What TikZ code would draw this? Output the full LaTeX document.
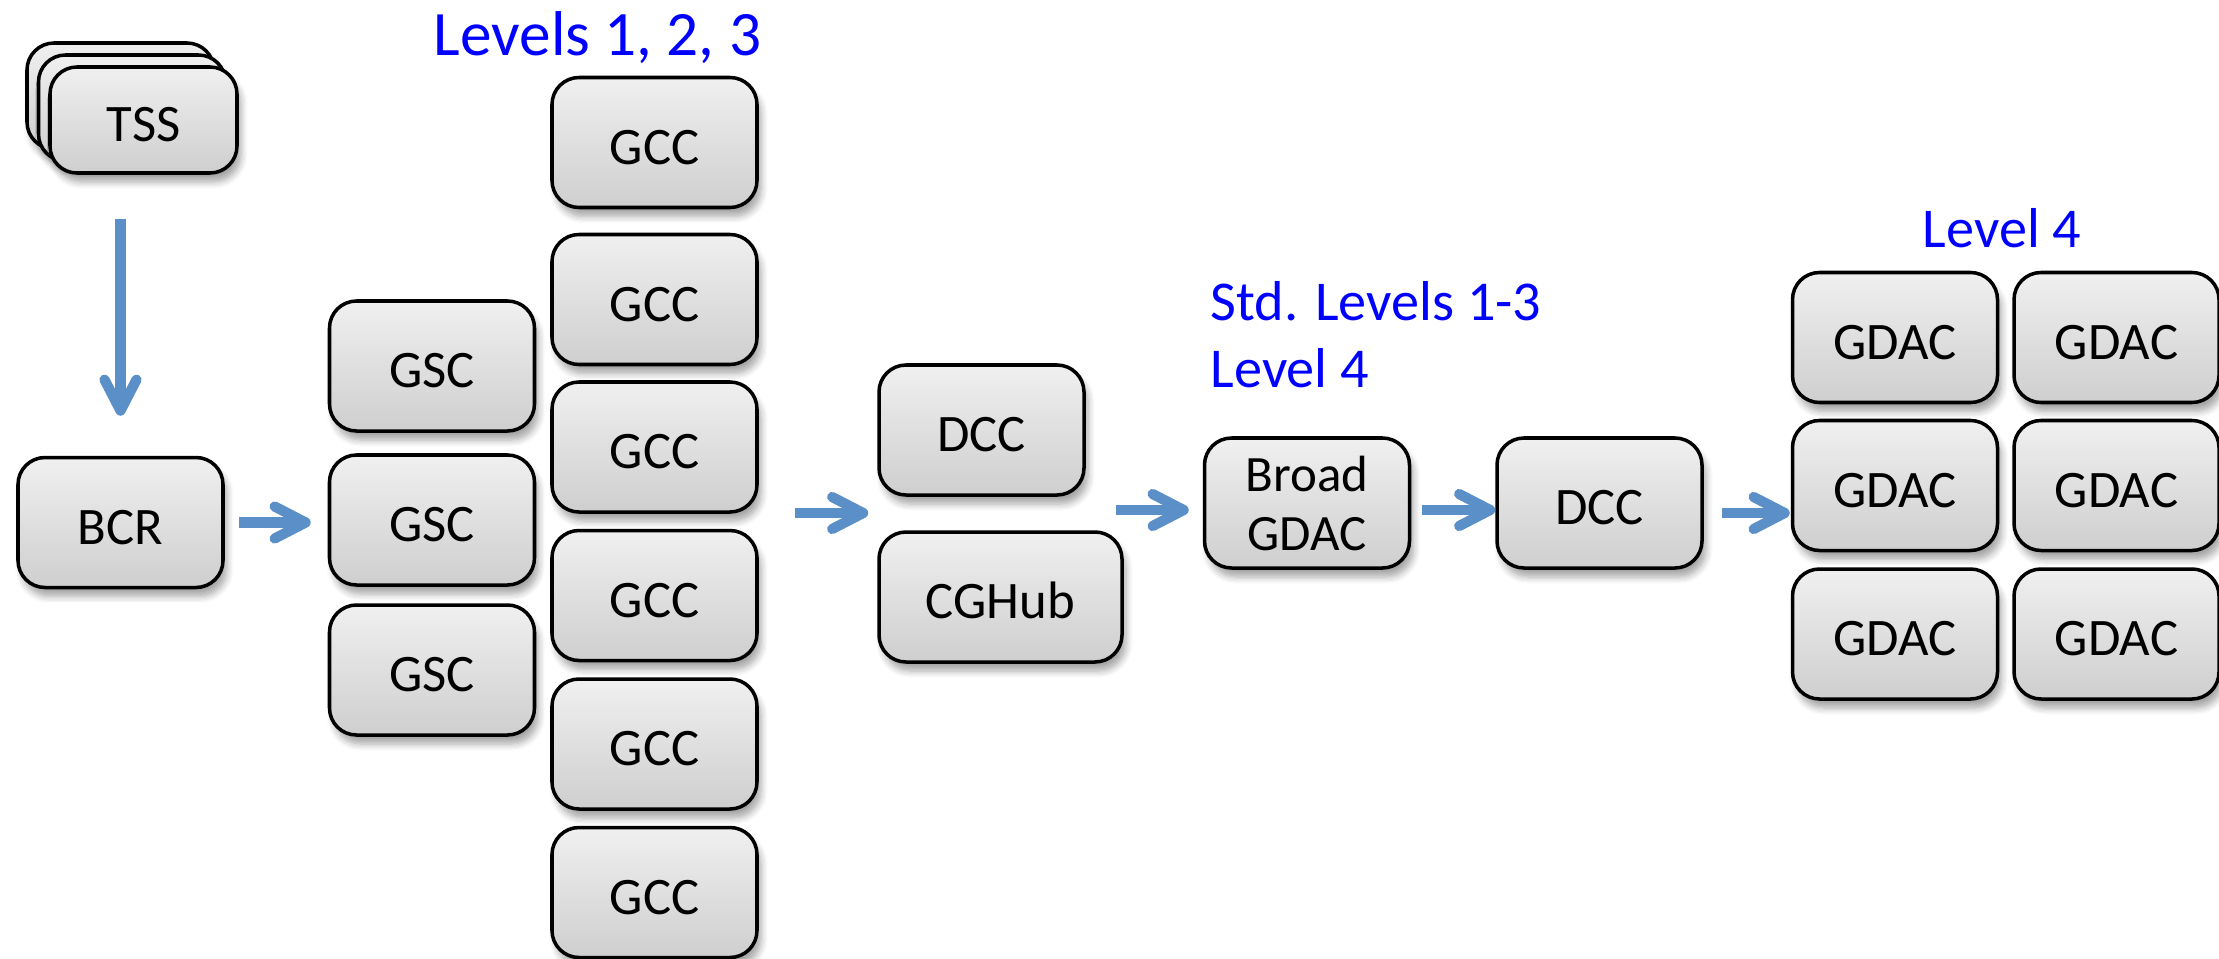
\documentclass[tikz,border=0pt]{standalone}
\usepackage{fontspec}
\setmainfont{Carlito}
\usetikzlibrary{arrows.meta,shadows.blur}
\definecolor{flowblue}{RGB}{91,143,200}
\definecolor{labelblue}{RGB}{0,0,255}

\tikzset{
	box/.style={draw=black, line width=1pt, rounded corners=0.27cm,
		top color=gray!12, bottom color=gray!38,
		minimum width=2.05cm, minimum height=1.30cm, inner sep=0pt,
		text height=12.5pt, text depth=0pt,
		font=\fontsize{15}{18}\selectfont,
		blur shadow={shadow xshift=0.4mm, shadow yshift=-0.9mm, shadow blur steps=6, shadow opacity=35}},
	stackbox/.style={box, minimum width=1.87cm, minimum height=1.06cm},
	flow/.style={draw=flowblue, line width=2.9pt, -{Straight Barb[length=3.1mm,width=3.2mm,round]}},
	lbl/.style={text=labelblue, inner sep=0pt, font=\fontsize{16}{19}\selectfont}
}

\begin{document}
\begin{tikzpicture}
		\useasboundingbox (0,0) rectangle (22.19,-9.58);

		\node[stackbox] (tss1) at (1.205,-0.96) {};
		\node[stackbox] (tss2) at (1.32,-1.08) {};
		\node[stackbox] (tss3) at (1.435,-1.20) {TSS};
		\node[box] (bcr) at (1.205,-5.225) {BCR};

		\node[box] (gsc1) at (4.32,-3.66) {GSC};
		\node[box] (gsc2) at (4.32,-5.20) {GSC};
		\node[box] (gsc3) at (4.32,-6.70) {GSC};

		\node[box] (gcc1) at (6.545,-1.425) {GCC};
		\node[box] (gcc2) at (6.545,-2.995) {GCC};
		\node[box] (gcc3) at (6.545,-4.47) {GCC};
		\node[box] (gcc4) at (6.545,-5.955) {GCC};
		\node[box] (gcc5) at (6.545,-7.44) {GCC};
		\node[box] (gcc6) at (6.545,-8.925) {GCC};

		\node[box] (dcc1) at (9.815,-4.30) {DCC};
		\node[box, minimum width=2.43cm] (cghub) at (10.005,-5.97) {CGHub};

		\node[box, text height={}, text depth={}, font=\fontsize{14.5}{16.8}\selectfont, align=center] (broad) at (13.07,-5.03) {Broad\\GDAC};
		\node[box] (dcc2) at (15.995,-5.03) {DCC};

		\node[box] (gdac11) at (18.95,-3.375) {GDAC};
		\node[box] (gdac12) at (21.165,-3.375) {GDAC};
		\node[box] (gdac21) at (18.95,-4.855) {GDAC};
		\node[box] (gdac22) at (21.165,-4.855) {GDAC};
		\node[box] (gdac31) at (18.95,-6.34) {GDAC};
		\node[box] (gdac32) at (21.165,-6.34) {GDAC};

		\node[lbl, font=\fontsize{18}{22}\selectfont, anchor=base] (lv123) at (5.975,-0.55) {Levels 1, 2, 3};
		\node[lbl, anchor=base west] (lvstd) at (12.10,-3.20) {Std. Levels 1-3};
		\node[lbl, anchor=base west] (lvfour) at (12.10,-3.87) {Level 4};
		\node[lbl, anchor=base] (lvgdac) at (20.02,-2.47) {Level 4};

		\coordinate (fanin) at (0,-5.13);
		\coordinate (fanout) at (0,-5.10);
		\coordinate (gdacin) at (0,-5.13);

		\draw[flow, shorten <=0.44cm, shorten >=0.40cm] (bcr.north |- tss3.south) -- (bcr.north);
		\draw[flow, shorten <=0.14cm, shorten >=0.17cm] (bcr.east) -- (gsc2.west |- bcr.east);
		\draw[flow, shorten <=0.36cm, shorten >=0.09cm] (gcc4.east |- fanin) -- (dcc1.west |- fanin);
		\draw[flow, shorten <=0.30cm, shorten >=0.14cm] (dcc1.east |- fanout) -- (broad.west |- fanout);
		\draw[flow, shorten <=0.11cm] ([yshift=-0.07cm]broad.east) -- ([yshift=-0.07cm]dcc2.west);
		\draw[flow, shorten <=0.18cm, shorten >=0.01cm] (dcc2.east |- gdacin) -- (gdac21.west |- gdacin);
	\end{tikzpicture}
\end{document}
